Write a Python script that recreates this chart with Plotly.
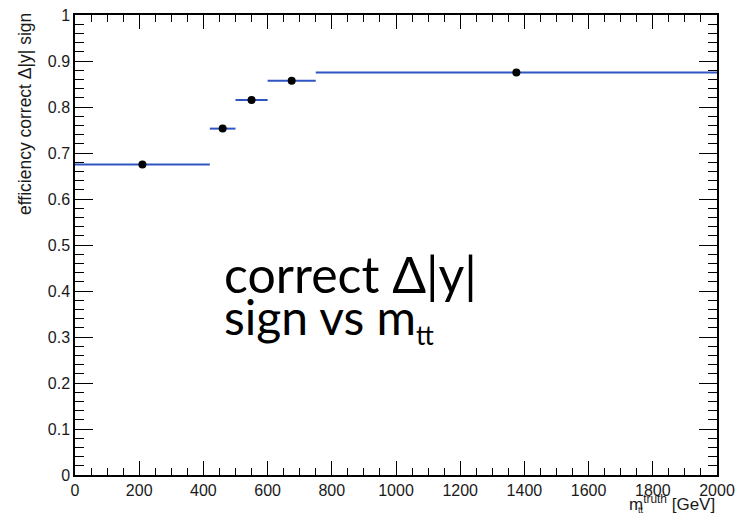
import plotly.graph_objects as go

# ---- data ----
bin_edges = [0, 420, 500, 600, 750, 2000]
efficiency = [0.675, 0.753, 0.815, 0.857, 0.875]
eff_err = [0.003, 0.004, 0.004, 0.004, 0.007]

x_ticks = [0, 200, 400, 600, 800, 1000, 1200, 1400, 1600, 1800, 2000]
y_ticks = [0, 0.1, 0.2, 0.3, 0.4, 0.5, 0.6, 0.7, 0.8, 0.9, 1]

centers = [(a + b) / 2 for a, b in zip(bin_edges[:-1], bin_edges[1:])]
half_w = [(b - a) / 2 for a, b in zip(bin_edges[:-1], bin_edges[1:])]

# page body has an 8px margin: figure starts at screen (8, 8)
OFF = 8
W, H = 743 - OFF, 518 - OFF
# plot area in screen pixels: x 75..717, y 15..475
L = 75 - OFF
T = 15 - OFF
R = W - (717 - OFF)
B = H - (475 - OFF)
pw, ph = W - L - R, H - T - B


def px(sx):
    return (sx - OFF - L) / pw


def py(sy):
    return 1 - (sy - OFF - T) / ph


fig = go.Figure()
# blue bin-width bars
fig.add_trace(go.Scatter(
    x=centers, y=efficiency, mode="markers",
    marker=dict(size=1, color="rgba(0,0,0,0)"),
    error_x=dict(type="data", array=half_w, arrayminus=half_w,
                 color="#2f56c0", thickness=2, width=0),
    showlegend=False, hoverinfo="skip",
))
# black points with vertical errors
fig.add_trace(go.Scatter(
    x=centers, y=efficiency, mode="markers",
    marker=dict(size=8, color="black"),
    error_y=dict(type="data", array=eff_err, color="black", thickness=1.5, width=0),
    showlegend=False,
))

tickfont = dict(family="Liberation Sans, Arial, sans-serif", size=16, color="#1a1a1a")

fig.update_xaxes(
    range=[0, 2000], tickvals=x_ticks, ticks="inside", ticklen=14, tickwidth=1.3,
    tickcolor="black", mirror="allticks", showline=True, linecolor="black", linewidth=1.5,
    showgrid=False, zeroline=False, tickfont=tickfont, automargin=False,
    ticklabeloverflow="allow",
    minor=dict(ticks="inside", dtick=50, ticklen=7, tickwidth=1.2, tickcolor="black", showgrid=False),
)
fig.update_yaxes(
    range=[0, 1], tickvals=y_ticks, ticks="inside", ticklen=18, tickwidth=1.3,
    tickcolor="black", mirror="allticks", showline=True, linecolor="black", linewidth=1.5,
    showgrid=False, zeroline=False, tickfont=tickfont, automargin=False,
    ticklabeloverflow="allow",
    minor=dict(ticks="inside", dtick=0.02, ticklen=9, tickwidth=1.2, tickcolor="black", showgrid=False),
)

axfont = dict(family="Liberation Sans, Arial, sans-serif", size=17.5, color="#1a1a1a")
ann = [
    dict(text="efficiency correct Δ|y| sign", textangle=-90, xref="paper", yref="paper",
         x=px(25), y=py(11), xanchor="center", yanchor="top", showarrow=False, font=axfont),
    dict(text="m<sup>truth</sup> [GeV]", xref="paper", yref="paper",
         x=px(717), y=py(503), xanchor="right", yanchor="middle", showarrow=False,
         font=dict(family="Liberation Sans, Arial, sans-serif", size=17, color="#1a1a1a")),
    dict(text="tt", xref="paper", yref="paper",
         x=px(636), y=py(510), xanchor="left", yanchor="middle", showarrow=False,
         font=dict(family="Liberation Sans, Arial, sans-serif", size=9, color="#1a1a1a")),
    dict(text="correct Δ|y|", xref="paper", yref="paper",
         x=px(222), y=py(274), xanchor="left", yanchor="middle", showarrow=False,
         font=dict(family="Lato, Open Sans, sans-serif", size=50, color="black")),
    dict(text="sign vs m<sub><span style='font-size:26px'>tt</span></sub>", xref="paper", yref="paper",
         x=px(222), y=py(319), xanchor="left", yanchor="middle", showarrow=False,
         font=dict(family="Lato, Open Sans, sans-serif", size=48, color="black")),
]

fig.update_layout(
    width=W, height=H, margin=dict(l=L, r=R, t=T, b=B),
    plot_bgcolor="white", paper_bgcolor="white", annotations=ann,
)

fig.write_html("out.html")
